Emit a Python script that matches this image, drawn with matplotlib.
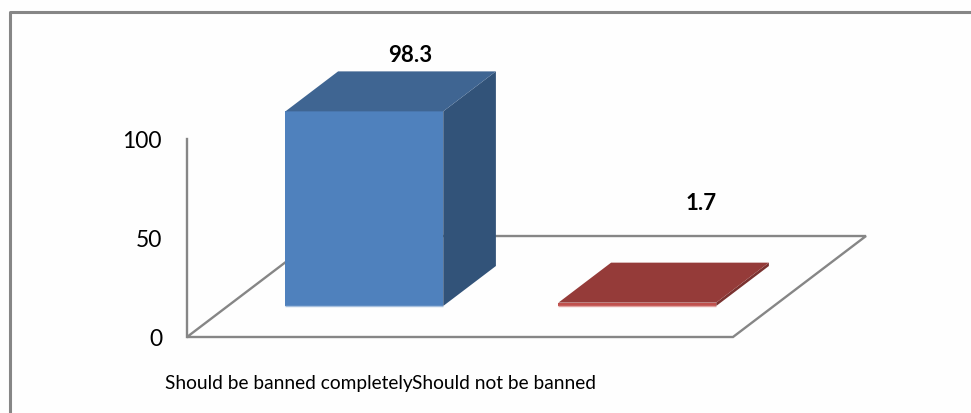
import matplotlib
matplotlib.use('Agg')
from matplotlib import pyplot as plt
from matplotlib.lines import Line2D
from matplotlib.patches import Polygon

plt.rcParams['font.family'] = ['Lato', 'DejaVu Sans']

categories = ['Should be banned completely', 'Should not be banned']
values = [98.3, 1.7]
y_ticks = [0, 50, 100]

W, H = 971, 414
GREY = '#868686'

# oblique depth of the floor, in axis units
DEPTH_X = 133 / 273
DEPTH_Y = 51.0
BAR_WIDTH = 0.578
D0, D1 = 0.307, 0.703


def proj(x, v, d):
    return x + d * DEPTH_X, v + d * DEPTH_Y


fig = plt.figure(figsize=(W / 100, H / 100), dpi=100, facecolor='#fefefe')
ax = fig.add_axes([187 / W, (H - 338) / H, 546 / W, 198 / H])
ax.set_xlim(0, 2)
ax.set_ylim(0, 100)
ax.patch.set_alpha(0)
for side in ['top', 'right', 'bottom', 'left']:
    ax.spines[side].set_visible(False)

# outer frame, only left and top are visible
fig.add_artist(Line2D([10 / W, 10 / W, 1], [0, (H - 12.5) / H, (H - 12.5) / H],
                      color=GREY, lw=2.2))

# wall and floor
ax.plot([0, 0], [0, 100], color=GREY, lw=1.7, clip_on=False, zorder=1)
floor = [proj(0, 0, 0), proj(2, 0, 0), proj(2, 0, 1), proj(0, 0, 1)]
ax.add_patch(Polygon(floor, closed=True, fill=False, edgecolor=GREY, lw=1.7,
                     clip_on=False, zorder=1))

styles = [('#4f81bd', '#3f6592', '#325379', '#a7c0de'),
          ('#c0504d', '#953b39', '#7a3230', '#e0a3a1')]
label_offsets = [(-7, 17), (11, 60)]

for i, v in enumerate(values):
    x0 = i + 0.5 - BAR_WIDTH / 2
    x1 = i + 0.5 + BAR_WIDTH / 2
    front, top, side, edge = styles[i]
    ax.add_patch(Polygon([proj(x0, 0, D0), proj(x1, 0, D0), proj(x1, v, D0), proj(x0, v, D0)],
                         color=front, lw=0, clip_on=False, zorder=3))
    ax.add_patch(Polygon([proj(x1, 0, D0), proj(x1, 0, D1), proj(x1, v, D1), proj(x1, v, D0)],
                         color=side, lw=0, clip_on=False, zorder=3))
    ax.add_patch(Polygon([proj(x0, v, D0), proj(x1, v, D0), proj(x1, v, D1), proj(x0, v, D1)],
                         color=top, lw=0, clip_on=False, zorder=3))
    ax.plot([proj(x0, 0, D0)[0], proj(x1, 0, D0)[0]], [proj(x0, 0, D0)[1]] * 2,
            color=edge, lw=1.0, clip_on=False, zorder=4, solid_capstyle='butt')
    ax.annotate(str(v), xy=proj(i + 0.5, v, D1), xytext=label_offsets[i],
                textcoords='offset pixels', ha='center', va='center',
                fontsize=16, fontweight='bold', color='black', annotation_clip=False)

ax.set_yticks(y_ticks)
ax.tick_params(axis='y', length=0, pad=18, labelsize=16.5, labelcolor='black')
ax.set_xticks([0.374, 1.161], categories)
ax.tick_params(axis='x', length=0, pad=27, labelsize=13.8, labelcolor='black')

fig.savefig('out.png', dpi=100, facecolor=fig.get_facecolor())
